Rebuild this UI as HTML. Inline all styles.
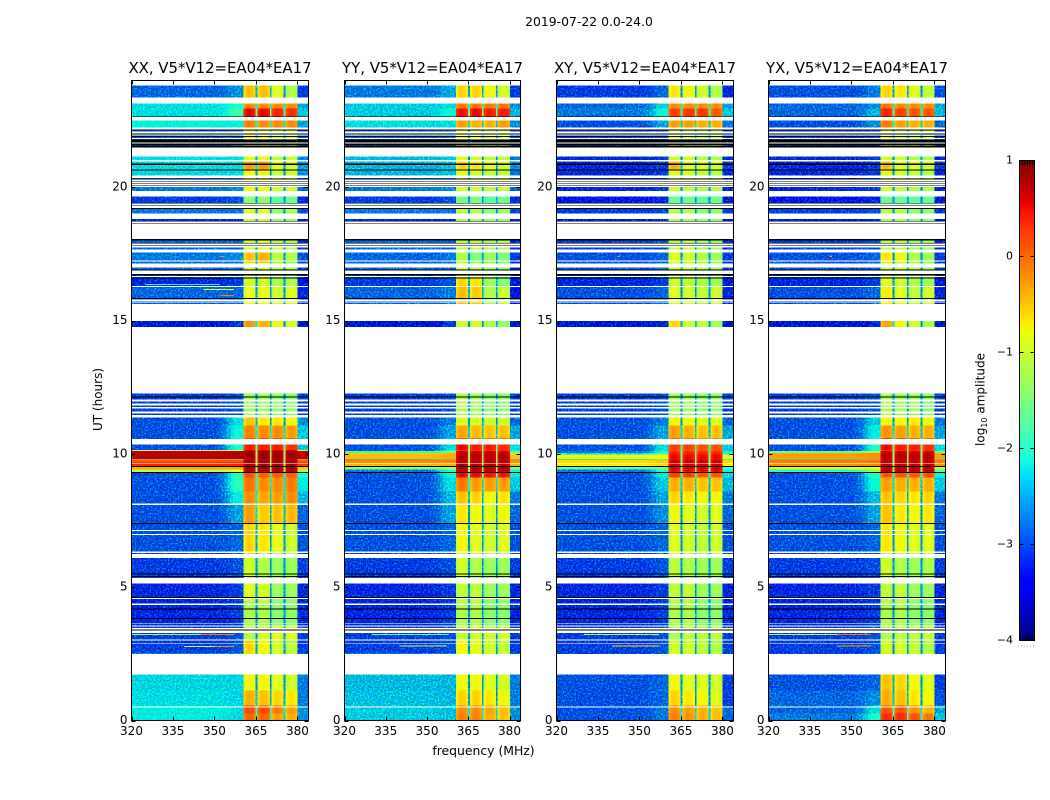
<!DOCTYPE html>
<html lang="en">
<head>
<meta charset="utf-8">
<title>2019-07-22 0.0-24.0</title>
<style>
html,body{margin:0;padding:0;background:#fff;}
svg{display:block;font-family:"DejaVu Sans","Liberation Sans",sans-serif;fill:#000;}
.cell{shape-rendering:crispEdges;}
</style>
</head>
<body>
<svg id="figure" xmlns="http://www.w3.org/2000/svg" width="1050" height="800" viewBox="0 0 1050 800">
  <defs>
    <filter id="grain" x="0" y="0" width="100%" height="100%" color-interpolation-filters="sRGB">
      <feTurbulence type="fractalNoise" baseFrequency="0.6" numOctaves="1" seed="3" result="n"/>
      <feColorMatrix in="n" type="matrix" values="0 0 0 0 1  0 0 0 0 1  0 1.2 0 0 0.3  0 0 0 0 1" result="m"/>
      <feComposite in="SourceGraphic" in2="m" operator="arithmetic" k1="1" k2="0" k3="0" k4="0" result="dim"/>
      <feColorMatrix in="n" type="matrix" values="0 0 0 0 0  1.5 0 0 0 -0.68  0 0 0 0 0  0 0 0 0 1" result="g"/>
      <feComposite in="dim" in2="g" operator="arithmetic" k1="0" k2="1" k3="1" k4="0"/>
    </filter>
  </defs>
  <rect x="0" y="0" width="1050" height="800" fill="#fff"/>
  <text x="589" y="26" font-size="12.4" text-anchor="middle">2019-07-22 0.0-24.0</text>
  <text x="483.5" y="755" font-size="12.4" text-anchor="middle">frequency (MHz)</text>
  <text x="102" y="399.5" font-size="12" text-anchor="middle" transform="rotate(-90 102 399.5)">UT (hours)</text>
  <g id="panels"></g>
  <g id="colorbar"></g>
  <text x="984.5" y="399.5" font-size="12" text-anchor="middle" transform="rotate(-90 984.5 399.5)">log<tspan font-size="8" dy="2.5">10</tspan><tspan dy="-2.5"> amplitude</tspan></text>
  <line x1="1018" y1="646" x2="1035" y2="646" stroke="#999" stroke-width="1" stroke-dasharray="1 2"/>
</svg>
<script>
// ---------- data ----------
const panelNames = ['XX', 'YY', 'XY', 'YX'];
const titleSuffix = ', V5*V12=EA04*EA17';
const freqTicks = [320, 335, 350, 365, 380];
const utTicks = [0, 5, 10, 15, 20];
const colorbarTicks = [1, 0, -1, -2, -3, -4];

// UT edges of the time bands (top to bottom)
const bandEdgesUT = [24, 23.36, 23.14, 22.95, 22.63, 22.24, 21.49, 21, 20.63, 20.4, 19.84, 19.31, 19.01, 18, 17.55, 17.18, 16.58, 16.28, 15.6, 14.78, 12.26, 11.36, 11.06, 10.58, 10.14, 10.1, 10.03, 9.98, 9.81, 9.78, 9.68, 9.53, 9.42, 9.32, 9.11, 8.59, 8.14, 7.39, 6.26, 5.33, 4.5, 3.56, 3, 2.51, 1.73, 1.13, 0.56, 0.26, 0];

// log10 amplitude per band: [background, shoulder, block1, block2, block3, block4, right edge]
const levelsXX = [
[-3,-2.8,-.5,-.5,-.9,-1.2,-3.2],[-2.4,-2.1,-.2,-.2,-.2,-.2,-2.7],[-2.4,-2.1,-.2,-.2,-.2,-.2,-2.7],[-2.4,-1.9,.5,.5,.35,.3,-2.5],
[-2.25,-2.25,-.1,-.2,-.2,-.2,-2.7],[-3,-2.9,-.7,-.8,-1,-1,-3.1],[-2.4,-2.4,-.9,-.9,-1.1,-1,-2.8],[-2.4,-2.4,-.3,-.3,-.9,-1,-2.7],
[-2.45,-2.4,-.8,-.8,-1.1,-1,-2.8],[-2.9,-2.8,-.8,-.8,-1,-1,-3],[-3.2,-3.1,-1.4,-1.4,-1.7,-1.6,-3.3],[-2.9,-2.9,-.9,-.9,-1.4,-1.2,-3.1],
[-3.3,-3.3,-1,-1,-1.3,-1.3,-3.4],[-3,-3,-1,-.9,-1.1,-1.2,-3.3],[-2.9,-2.8,-.5,-.4,-1.1,-1.2,-3.1],[-3,-3,-1,-1,-1.2,-1.3,-3.2],
[-3.3,-3.2,-1,-1,-1.2,-1.2,-3.4],[-3,-3,-.85,-.85,-1,-.9,-3.3],[-3.5,-3.2,-.25,-.4,-.8,-1,-3.5],[-3.5,-3.2,-.25,-.4,-.8,-1,-3.5],
[-3.2,-3.1,-1.3,-1.3,-1.4,-1.4,-3.2],[-3.1,-2.4,-.5,-.7,-.7,-.8,-2.8],[-3.1,-2.2,-.15,-.2,-.2,-.3,-2.5],[-3.1,-2.1,.4,.4,.4,.3,-2.5],
[-.9,-.9,.6,.6,.6,.6,-.9],[.75,.8,.85,.85,.85,.85,.7],[.75,.8,.85,.85,.85,.85,.7],[.75,.8,.85,.85,.85,.85,.7],
[-1.7,-1.5,.7,.7,.7,.7,-1.7],[.1,.15,.8,.8,.8,.8,.1],[.35,.4,.85,.85,.85,.85,.3],[-.35,-.3,.8,.8,.8,.8,-.5],
[-1.1,-.9,.75,.75,.75,.75,-1.3],[-3.1,-2,.1,.05,.05,.05,-2.1],[-3.1,-2,-.05,-.2,-.2,-.1,-2.3],[-3.1,-2.3,-.2,-.35,-.3,-.2,-2.6],
[-3.1,-2.7,-.3,-.55,-.5,-.45,-3],[-3.1,-3,-.6,-.7,-.85,-1,-3.1],[-3.2,-3.1,-1,-1.2,-1.3,-1.3,-3.2],[-3.3,-3.2,-.9,-1,-1.3,-1.3,-3.3],
[-3.3,-3.2,-1.2,-1.2,-1.4,-1.4,-3.3],[-3.2,-3.1,-1.2,-1,-.9,-.9,-3.2],[-3.2,-3.1,-.6,-.8,-1,-1.1,-3.2],[-2.45,-2.45,-.8,-.8,-.9,-1,-2.9],
[-2.45,-2.45,-.8,-.8,-.9,-1,-2.9],[-2.4,-2.45,-.4,-.5,-.6,-.7,-2.9],[-2.3,-2.4,.15,.15,-.1,-.3,-2.8],[-2.3,-2.4,0,0,-.3,-.4,-2.8]];

const levelsYY = [
[-2.9,-2.7,-.6,-.6,-.8,-1,-3.2],[-2.5,-2.4,-.1,-.1,-.1,-.1,-2.8],[-2.5,-2.4,-.1,-.1,-.1,-.1,-2.8],[-2.5,-2.2,.45,.5,.4,.4,-2.6],
[-2.4,-2.4,-.3,-.4,-.4,-.3,-2.8],[-3,-2.9,-.8,-.9,-1,-1,-3.1],[-2.6,-2.5,-.9,-1,-1.1,-1.1,-2.9],[-2.6,-2.5,-.6,-.7,-.9,-1,-2.8],
[-2.6,-2.5,-.9,-1,-1.1,-1.1,-2.9],[-2.9,-2.8,-1,-1,-1.1,-1.1,-3],[-3.2,-3.1,-1.5,-1.5,-1.7,-1.6,-3.3],[-2.9,-2.9,-1.1,-1.1,-1.4,-1.3,-3.1],
[-3.3,-3.3,-1.2,-1.2,-1.4,-1.4,-3.4],[-3,-3,-1.1,-1.1,-1.2,-1.2,-3.3],[-3,-2.9,-1.2,-1.5,-1.3,-1.5,-3.2],[-3,-3,-1,-1.2,-1.3,-1.4,-3.3],
[-3.2,-3.1,-.6,-.7,-1.3,-1.5,-3.4],[-3,-2.9,-.5,-.55,-1.2,-1.05,-3.4],[-3.5,-3.2,-1,-1,-1.2,-1.4,-3.6],[-3.5,-3.2,-1,-1,-1.2,-1.4,-3.6],
[-3.2,-3.1,-1.2,-1.3,-1.4,-1.4,-3.2],[-3.1,-2.9,-.9,-1,-1,-1,-3],[-3.1,-2.7,-.35,-.45,-.5,-.5,-2.7],[-3.1,-2.4,.5,.4,.4,.3,-2.4],
[-3.1,-2.1,.3,.3,.3,.3,-2.3],[-1.9,-1.6,.65,.65,.65,.6,-1.8],[-.5,-.4,.7,.7,.7,.7,-.6],[-.45,-.35,.75,.75,.75,.75,-.5],
[-2.5,-2,.6,.6,.6,.6,-2.3],[-.15,-.1,.7,.7,.7,.7,-.2],[-.4,-.35,.8,.8,.8,.7,-.4],[-1.4,-1.2,.75,.75,.75,.75,-1.5],
[-2.9,-2.1,.7,.7,.7,.7,-2.2],[-3.1,-2.2,.5,.5,.45,.45,-2.3],[-3.1,-2.4,-.1,-.3,-.3,-.3,-2.5],[-3.1,-2.6,-.5,-.6,-.8,-.7,-2.9],
[-3.1,-2.7,-.7,-.8,-.9,-.8,-3],[-3.1,-3,-.8,-.9,-1,-.9,-3.1],[-3.2,-3.1,-1,-1.2,-1.3,-1.3,-3.2],[-3.3,-3.2,-1.1,-1.1,-1.3,-1.3,-3.3],
[-3.3,-3.2,-1.2,-1.2,-1.4,-1.4,-3.3],[-3.2,-3.1,-1.1,-1,-1,-1,-3.2],[-3.2,-3.1,-.8,-.9,-1,-1.1,-3.2],[-2.6,-2.6,-.8,-.8,-.9,-1,-2.9],
[-2.6,-2.6,-.8,-.8,-.9,-1,-2.9],[-2.55,-2.6,-.6,-.6,-.7,-.8,-2.9],[-2.5,-2.55,-.2,-.2,-.35,-.5,-2.8],[-2.5,-2.55,-.15,-.15,-.4,-.5,-2.8]];

const levelsXY = [
[-3.2,-3,-.7,-.8,-1,-1.2,-3.3],[-3,-2.5,-.2,-.2,-.2,-.2,-2.7],[-3,-2.5,-.2,-.2,-.2,-.2,-2.7],[-2.9,-2.2,.2,.25,.25,.05,-2.5],
[-3.1,-2.7,-.3,-.3,-.4,-.4,-2.9],[-3.2,-3.1,-.9,-1,-1.1,-1.1,-3.2],[-3.3,-3.2,-1,-1,-1.2,-1.2,-3.3],[-3.3,-3.2,-.4,-.9,-.9,-1,-3.2],
[-3.3,-3.2,-.9,-1,-1.1,-1.2,-3.3],[-3.3,-3.2,-1,-1.1,-1.2,-1.2,-3.3],[-3.4,-3.3,-1.6,-1.6,-1.7,-1.6,-3.5],[-3.2,-3.1,-1.1,-1.1,-1.4,-1.4,-3.2],
[-3.4,-3.3,-1.2,-1.2,-1.4,-1.4,-3.5],[-3.2,-3.1,-1.1,-1.1,-1.3,-1.3,-3.3],[-3.1,-3,-.9,-1,-1.2,-1.3,-3.2],[-3.1,-3,-1.1,-1.1,-1.2,-1.3,-3.2],
[-3.3,-3.2,-1,-1.1,-1.2,-1.3,-3.4],[-3.1,-3,-.9,-1,-1.1,-1,-3.3],[-3.5,-3.3,-.6,-1,-1.1,-1.3,-3.6],[-3.5,-3.3,-.6,-1,-1.1,-1.3,-3.6],
[-3.2,-3.1,-1.3,-1.3,-1.4,-1.4,-3.2],[-3.1,-2.9,-.8,-.8,-.9,-.9,-3],[-3.1,-2.7,-.3,-.4,-.5,-.5,-2.7],[-3.1,-2.4,.2,.2,.1,.1,-2.5],
[-3.1,-2.4,.1,.1,.1,.1,-2.5],[-2.9,-2.1,.35,.35,.3,.3,-2.2],[-2.4,-1.8,.4,.4,.4,.4,-2],[-.9,-.8,.5,.5,.5,.5,-.9],
[-2.5,-2,.4,.4,.4,.4,-2.3],[-.6,-.5,.6,.6,.6,.6,-.6],[-.7,-.6,.65,.65,.65,.65,-.7],[-1.7,-1.5,.6,.6,.6,.6,-1.8],
[-2.9,-2.1,.5,.5,.5,.5,-2.2],[-3.1,-2.3,.2,.2,.1,.1,-2.4],[-3.1,-2.5,-.4,-.4,-.5,-.5,-2.6],[-3.1,-2.7,-.6,-.7,-.8,-.8,-2.9],
[-3.1,-2.8,-.8,-.9,-1,-.9,-3],[-3.1,-3,-.9,-1,-1.1,-1,-3.1],[-3.2,-3.1,-1.1,-1.2,-1.3,-1.3,-3.2],[-3.3,-3.2,-1.1,-1.1,-1.3,-1.3,-3.3],
[-3.3,-3.2,-1.2,-1.2,-1.4,-1.4,-3.3],[-3.2,-3.1,-1.2,-1.1,-1.1,-1.1,-3.2],[-3.2,-3.1,-1,-1,-1.1,-1.2,-3.2],[-3.1,-3,-.8,-.9,-.9,-1,-3.2],
[-3.1,-3,-.8,-.9,-.9,-1,-3.2],[-3.1,-3,-.6,-.7,-.8,-.9,-3.2],[-3.1,-2.9,-.2,-.3,-.4,-.5,-3],[-3.1,-2.9,-.15,-.25,-.4,-.5,-3]];

const levelsYX = [
[-3.1,-2.9,-.6,-.7,-.9,-1.1,-3.1],[-3,-2.8,-.1,-.2,-.2,-.2,-2.7],[-3,-2.8,-.1,-.2,-.2,-.2,-2.7],[-3,-2.6,.35,.2,.1,.1,-2.6],
[-3.1,-2.8,-.1,-.3,-.4,-.4,-3],[-3.2,-3.1,-.9,-1,-1.1,-1.1,-3.2],[-3.3,-3.2,-1,-1,-1.2,-1.2,-3.3],[-3.3,-3.2,-.5,-.9,-.9,-1,-3.2],
[-3.3,-3.2,-.9,-1,-1.1,-1.2,-3.3],[-3.3,-3.2,-1,-1.1,-1.2,-1.2,-3.3],[-3.4,-3.3,-1.6,-1.6,-1.7,-1.6,-3.5],[-3.2,-3.1,-1.1,-1.1,-1.4,-1.4,-3.2],
[-3.4,-3.3,-1.2,-1.2,-1.4,-1.4,-3.5],[-3.2,-3.1,-1.1,-1.1,-1.3,-1.3,-3.3],[-3.1,-3,-.7,-.8,-1.2,-1.3,-3.2],[-3.1,-3,-1.1,-1.1,-1.2,-1.3,-3.2],
[-3.3,-3.2,-.9,-1,-1.2,-1.3,-3.4],[-3.1,-3,-.75,-.9,-1.1,-1,-3.3],[-3.5,-3.3,-.35,-.8,-1,-1.2,-3.6],[-3.5,-3.3,-.35,-.8,-1,-1.2,-3.6],
[-3.2,-3.1,-1.2,-1.3,-1.3,-1.4,-3.2],[-3.1,-2.5,-.8,-.8,-.7,-.8,-2.9],[-3.1,-2.3,-.25,-.3,-.4,-.4,-2.7],[-3.1,-2.1,.5,.4,.4,.3,-2.4],
[-3.1,-2.1,.3,.3,.3,.3,-2.3],[-1.6,-1.3,.65,.65,.6,.6,-1.6],[-.3,-.2,.7,.7,.7,.7,-.3],[-.3,-.2,.75,.75,.75,.75,-.3],
[-2.2,-1.8,.6,.6,.6,.6,-2.1],[-.1,-.05,.7,.7,.7,.7,-.1],[-.2,-.15,.75,.75,.75,.75,-.2],[-.9,-.8,.7,.7,.7,.7,-1.1],
[-2,-1.4,.75,.75,.7,.7,-1.7],[-3.1,-2,.1,.1,.1,.1,-2.2],[-3.1,-2.2,-.3,-.4,-.4,-.4,-2.5],[-3.1,-2.6,-.5,-.6,-.7,-.6,-2.9],
[-3.1,-2.7,-.5,-.7,-.8,-.7,-3],[-3.1,-3,-.7,-.8,-.9,-.9,-3.1],[-3.2,-3.1,-1,-1.2,-1.3,-1.2,-3.2],[-3.3,-3.2,-1.1,-1.1,-1.3,-1.3,-3.3],
[-3.3,-3.2,-1.2,-1.2,-1.4,-1.4,-3.3],[-3.2,-3.1,-1.2,-1.1,-1.1,-1.1,-3.2],[-3.2,-3.1,-1,-1,-1.1,-1.2,-3.2],[-3.1,-3,-.6,-.7,-.8,-.9,-3.2],
[-3.1,-3,-.5,-.6,-.8,-.9,-3.2],[-3,-2.8,-.4,-.5,-.7,-.8,-3.1],[-3,-2.4,.1,.1,-.2,-.4,-2.7],[-2.9,-2.1,.3,.3,.1,-.1,-2.5]];

const panelLevels = [levelsXX, levelsYY, levelsXY, levelsYX];

// flagged (blank) intervals and zero-amplitude rows, UT [top, bottom]
const whiteGapsUT = [[24,23.81],[23.36,23.14],[22.63,22.5],[22.24,22.16],[22.08,22.02],[21.98,21.93],[21.85,21.8],[21.68,21.64],[21.48,21.15],[21.01,20.97],[20.43,20.35],[20.28,20.22],[20.2,20.15],[20.13,20.07],[20.05,20],[19.85,19.65],[19.38,19.32],[19.3,19.22],[19.02,18.8],[18.71,18.66],[18.64,18.06],[17.88,17.81],[17.79,17.74],[17.66,17.55],[17.25,17.21],[17.14,16.99],[16.88,16.74],[16.66,16.63],[16.3,16.26],[15.79,15.74],[15.71,15.68],[15.61,14.99],[14.76,12.26],[12.03,11.96],[11.88,11.82],[11.75,11.7],[11.58,11.52],[11.46,11.37],[10.56,10.35],[9.66,9.64],[8.13,8.09],[7.15,7.1],[7,6.96],[6.33,6.29],[6.25,6.09],[5.34,5.14],[4.59,4.55],[4.38,4.34],[3.66,3.63],[3.56,3.53],[3.46,3.42],[3.38,3.29],[3.04,3],[2.91,2.88],[2.5,1.73],[0.53,0.49]];
const blackLinesUT = [[22.65,22.63],[22.16,22.12],[22.01,21.98],[21.92,21.88],[21.79,21.68],[21.64,21.59],[21.57,21.48],[20.88,20.83],[20.67,20.63],[20.33,20.28],[20.22,20.2],[20.15,20.13],[20.07,20.05],[19.4,19.38],[19.32,19.3],[19.22,19.2],[18.74,18.71],[18.66,18.64],[18.06,18],[17.91,17.88],[17.81,17.79],[16.92,16.88],[16.74,16.69],[16.61,16.59],[15.84,15.81],[12.15,12.12],[9.54,9.53],[9.31,9.29],[7.41,7.39],[5.51,5.49],[5.41,5.39],[4.64,4.61],[4.2,4.17],[3.85,3.83],[3.41,3.39]];

// narrow-band interference: panel index, UT, start MHz, end MHz, level
const rfiPanel = [0,0,0,0,0,0,0,0,1,1,2,2,2,3,3,3,3];
const rfiUT = [15.94,16.16,16.35,3.22,3.22,2.78,2.78,17.4,2.8,3.22,2.8,3.22,17.4,2.8,3.22,3.22,17.4];
const rfiStart = [352,346,325,345,320,350,339,352,340,330,340,330,342,345,345,320,342];
const rfiEnd = [357,357,352,357,345,357,350,353,357,358,357,357,343,357,357,345,343];
const rfiLevel = [-.1,-.9,-2,-.1,-1.3,-.2,-1,-.2,-1,-1.6,-.6,-1.2,-.3,-.3,-.1,-1.2,-.3];

// spectral shape
const shoulderStartMHz = 349;
const shoulderWeights = [0,0.03,0.1,0.2,0.35,0.6,0.85,1,1,1];
const blockStartsMHz = [360.5,365.6,370.6,375.7];
const blockWidthMHz = 4.4;
const blockShape = [-0.14,0,0.06,0.03,0,-0.1];
const stripeDrop = 2.1;
const stripeFloor = -2.8;

// ---------- axis functions ----------
const SVGNS = 'http://www.w3.org/2000/svg';
const panelsRoot = document.getElementById('panels');
const barRoot = document.getElementById('colorbar');
function panelLeft(p){ return 131.5 + [0, 213, 425, 637][p]; }
function panelWidth(p){ return p === 1 ? 176 : 177; }
const plotTop = 80.5, plotHeight = 640;
function xOf(p, mhz){ return panelLeft(p) + (mhz - 320) / 64 * panelWidth(p); }
function yOf(ut){ return plotTop + (24 - ut) / 24 * plotHeight; }
function ramp(t, pts){
  for(let i = 1; i < pts.length; i++){
    if(t <= pts[i][0]){
      const a = pts[i-1], b = pts[i];
      return a[1] + (b[1]-a[1]) * (t-a[0]) / (b[0]-a[0]);
    }
  }
  return pts[pts.length-1][1];
}
function jet(v){
  const t = Math.max(0, Math.min(1, (v + 4) / 5));
  const r = ramp(t, [[0,0],[.35,0],[.66,1],[.89,1],[1,.5]]);
  const g = ramp(t, [[0,0],[.125,0],[.375,1],[.64,1],[.91,0],[1,0]]);
  const b = ramp(t, [[0,.5],[.11,1],[.34,1],[.65,0],[1,0]]);
  return 'rgb(' + Math.round(r*255) + ',' + Math.round(g*255) + ',' + Math.round(b*255) + ')';
}
function addRect(parent, x, y, w, h, fill){
  const el = document.createElementNS(SVGNS, 'rect');
  el.setAttribute('x', x.toFixed(2));
  el.setAttribute('y', y.toFixed(2));
  el.setAttribute('width', Math.max(w, 0).toFixed(2));
  el.setAttribute('height', Math.max(h, 0).toFixed(2));
  el.setAttribute('fill', fill);
  el.setAttribute('class', 'cell');
  parent.appendChild(el);
  return el;
}
function addLine(parent, x1, y1, x2, y2){
  const el = document.createElementNS(SVGNS, 'line');
  el.setAttribute('x1', x1);
  el.setAttribute('y1', y1);
  el.setAttribute('x2', x2);
  el.setAttribute('y2', y2);
  el.setAttribute('stroke', '#000');
  el.setAttribute('stroke-width', '1');
  el.setAttribute('shape-rendering', 'crispEdges');
  parent.appendChild(el);
  return el;
}
function addText(parent, x, y, str, size, anchor){
  const el = document.createElementNS(SVGNS, 'text');
  el.setAttribute('x', x);
  el.setAttribute('y', y);
  el.setAttribute('font-size', size);
  el.setAttribute('text-anchor', anchor);
  el.textContent = str;
  parent.appendChild(el);
  return el;
}
function addGroup(parent){
  const el = document.createElementNS(SVGNS, 'g');
  parent.appendChild(el);
  return el;
}

// ---------- panels ----------
panelNames.forEach(function(name, p){
  const g = addGroup(panelsRoot);
  
  

  const grainGroup = addGroup(g);
  grainGroup.setAttribute('filter', 'url(#grain)');
  
  
  const smoothGroup = addGroup(g);
  
  

  const levels = panelLevels[p];
  const w = panelWidth(p);
  function place(v){ return v < -1.8 ? grainGroup : smoothGroup; }
  function cell(v, f0, f1, y, h){
    const el = addRect(place(v), xOf(p, f0), y, xOf(p, f1) - xOf(p, f0), h, jet(v));
    
    
  }
  levels.forEach(function(row, b){
    const y = yOf(bandEdgesUT[b]);
    const h = yOf(bandEdgesUT[b + 1]) - y;
    const bg = row[0], sh = row[1], right = row[6];
    cell(bg, 320, shoulderStartMHz, y, h);
    const step = (blockStartsMHz[0] - shoulderStartMHz) / shoulderWeights.length;
    shoulderWeights.forEach(function(sw, i){
      cell(bg + (sh - bg) * sw, shoulderStartMHz + i * step, shoulderStartMHz + (i + 1) * step, y, h);
    });
    blockStartsMHz.forEach(function(start, k){
      const level = row[2 + k];
      const cw = blockWidthMHz / blockShape.length;
      blockShape.forEach(function(d, i){
        cell(level + d, start + i * cw, start + (i + 1) * cw, y, h);
      });
      const stop = start + blockWidthMHz;
      const next = k < 3 ? blockStartsMHz[k + 1] : stop;
      if(next > stop){
        cell(Math.max(stripeFloor, level - stripeDrop), stop, next, y, h);
      }
    });
    cell(right, blockStartsMHz[3] + blockWidthMHz, 384, y, h);
  });

  rfiUT.forEach(function(ut, i){
    if(rfiPanel[i] !== p) return;
    const el = addRect(g, xOf(p, rfiStart[i]), yOf(ut) - 0.5, xOf(p, rfiEnd[i]) - xOf(p, rfiStart[i]), 1, jet(rfiLevel[i]));
    
    
  });
  blackLinesUT.forEach(function(r){
    const el = addRect(g, panelLeft(p), yOf(r[0]), w, Math.max(yOf(r[1]) - yOf(r[0]), 1), '#000');
    
    
  });
  whiteGapsUT.forEach(function(r){
    const el = addRect(g, panelLeft(p), yOf(r[0]), w, yOf(r[1]) - yOf(r[0]), '#fff');
    
    
  });

  // frame
  const frame = document.createElementNS(SVGNS, 'rect');
  frame.setAttribute('x', panelLeft(p));
  frame.setAttribute('y', plotTop);
  frame.setAttribute('width', w);
  frame.setAttribute('height', plotHeight);
  frame.setAttribute('fill', 'none');
  frame.setAttribute('stroke', '#000');
  frame.setAttribute('stroke-width', '1');
  frame.setAttribute('shape-rendering', 'crispEdges');
  
  
  g.appendChild(frame);

  // ticks
  const bottom = plotTop + plotHeight;
  freqTicks.forEach(function(f){
    const x = Math.round(xOf(p, f)) + 0.5;
    const t1 = addLine(g, x, bottom, x, bottom - 4);
    
    
    const t2 = addLine(g, x, plotTop, x, plotTop + 4);
    
    
    const lab = addText(g, xOf(p, f), 735, String(f), 12, 'middle');
    
    
  });
  utTicks.forEach(function(u){
    const y = Math.round(yOf(u)) + 0.5;
    const left = panelLeft(p);
    const t1 = addLine(g, left, y, left + 4, y);
    
    
    const t2 = addLine(g, left + w, y, left + w - 4, y);
    
    
    const lab = addText(g, left - 4, yOf(u) + 3.5, String(u), 12, 'end');
    
    
  });

  const title = addText(g, panelLeft(p) + w / 2, 73, name + titleSuffix, 14.9, 'middle');
  
  
});

// ---------- colorbar ----------
const barLeft = 1019.5, barWidth = 15, barTop = 160, barHeight = 480;
function barY(v){ return barTop + (1 - v) / 5 * barHeight; }
for(let i = 0; i < 240; i++){
  const v = 1 - (i + 0.5) * 5 / 240;
  const slice = addRect(barRoot, barLeft, barY(1) + i * 2, barWidth, 2, jet(v));
  
  
}
for(let i = 0; i < 5; i++){
  const mx = barLeft + 3 + i * 2.5;
  const topMark = addLine(barRoot, mx, barTop, mx, barTop + 5);
  
  
  const bottomMark = addLine(barRoot, mx, barTop + barHeight, mx, barTop + barHeight - 5);
  
  
}
const barFrame = document.createElementNS(SVGNS, 'rect');
barFrame.setAttribute('x', barLeft);
barFrame.setAttribute('y', barTop + 0.5);
barFrame.setAttribute('width', barWidth);
barFrame.setAttribute('height', barHeight);
barFrame.setAttribute('fill', 'none');
barFrame.setAttribute('stroke', '#000');
barFrame.setAttribute('stroke-width', '1');
barFrame.setAttribute('shape-rendering', 'crispEdges');


barRoot.appendChild(barFrame);
colorbarTicks.forEach(function(v){
  const y = Math.round(barY(v)) + 0.5;
  const t1 = addLine(barRoot, barLeft, y, barLeft + 4, y);
  
  
  const t2 = addLine(barRoot, barLeft + barWidth, y, barLeft + barWidth - 4, y);
  
  
  const label = v < 0 ? '\u2212' + Math.abs(v) : String(v);
  const lab = addText(barRoot, 1013, barY(v) + 3.5, label, 11, 'end');
  
  
});
</script>
</body>
</html>
